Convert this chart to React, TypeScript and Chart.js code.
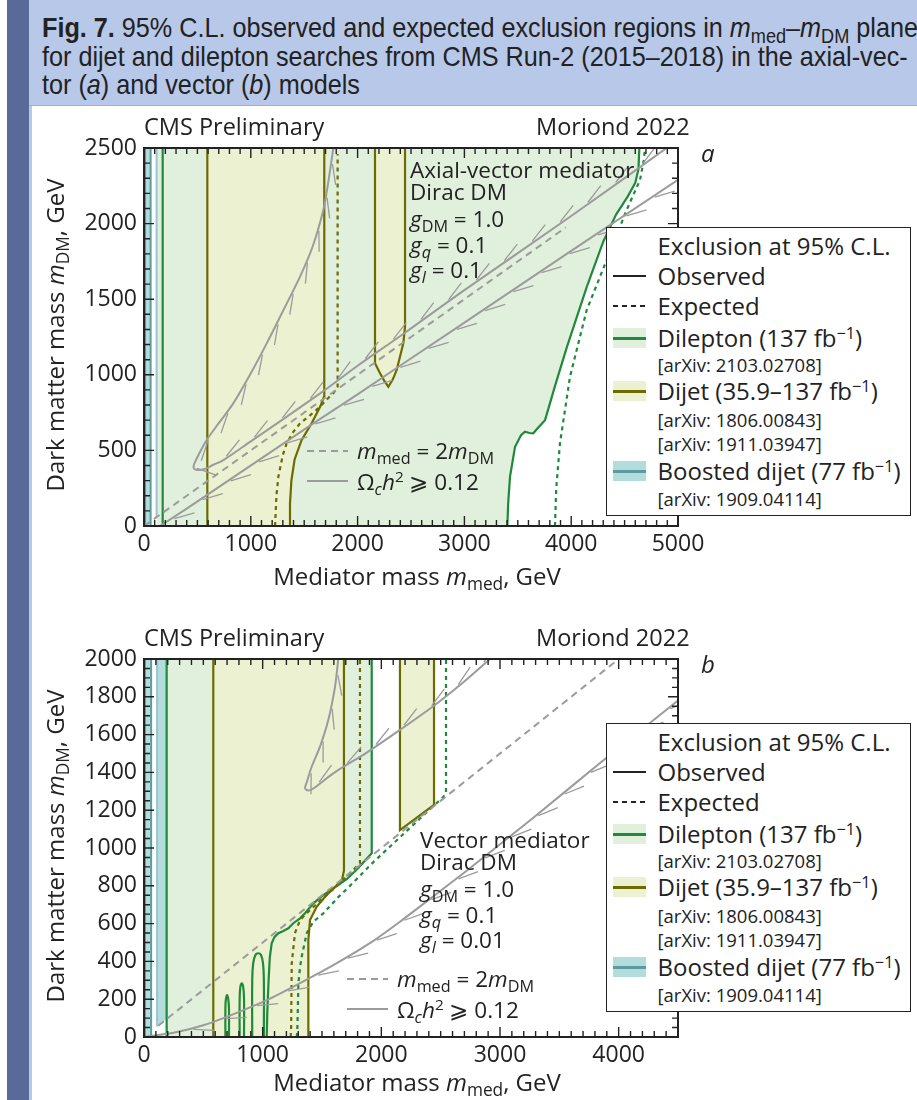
import React, { useEffect, useRef } from 'react';
import { Chart, registerables } from 'chart.js';

Chart.register(...registerables);

type P = [number, number];

const FONT = '"Open Sans", "Noto Sans", sans-serif';
const INK = '#222222';

const COLORS = {
  green: '#1f8a3c',
  greenFill: '#e1f0dc',
  olive: '#6b6b00',
  yellowFill: '#ecf2d1',
  teal: '#5c9c9e',
  tealFill: '#b3dcdc',
  tealEdge: '#98c6cf',
  gray: '#9b9b9b',
};

// ---------- (a) Axial-vector mediator ----------
const aXTickLabels = [0, 1000, 2000, 3000, 4000, 5000];
const aYTickLabels = [0, 500, 1000, 1500, 2000, 2500];

const aBoostedObs: P[] = [[10, 0], [10, 2500], [62, 2500], [62, 0], [10, 0]];
const aBoostedExp: P[] = [[118, 60], [118, 2500]];
const aDileptonObsLeft: P[] = [[175, 0], [175, 2500]];
const aDileptonObsRight: P[] = [
  [3402, 0], [3410, 150], [3427, 326], [3474, 524], [3530, 600], [3567, 624], [3610, 615],
  [3645, 613], [3677, 640], [3755, 700], [3850, 930], [3958, 1180], [4145, 1580], [4300, 1880],
  [4420, 2060], [4530, 2180], [4600, 2270], [4630, 2360], [4638, 2500],
];
const aDileptonExp: P[] = [
  [3848, 0], [3860, 250], [3895, 548], [3989, 988], [4145, 1428], [4332, 1759], [4519, 2090],
  [4644, 2288], [4680, 2420], [4691, 2500],
];
const aDijetObsLeft: P[] = [[593, 0], [593, 2500]];
const aDijetObsRight: P[] = [
  [1367, 0], [1367, 150], [1380, 300], [1410, 440], [1476, 569], [1570, 679], [1650, 790],
  [1688, 860], [1688, 2500],
];
const aDijetIsland: P[] = [
  [2163, 2500], [2163, 1076], [2210, 1010], [2250, 960], [2288, 921], [2330, 970], [2366, 1032],
  [2428, 1208], [2444, 1318], [2444, 2500],
];
const aDijetExp: P[] = [
  [1227, 0], [1240, 200], [1258, 326], [1300, 470], [1336, 547], [1400, 625], [1461, 679],
  [1560, 735], [1648, 789], [1730, 850], [1773, 877], [1813, 921], [1813, 2460],
];
const aHalfMass: P[] = [[0, 0], [3950, 1975]];
const aRelicV: P[] = [
  [1773, 2500], [1720, 2250], [1679, 2090], [1580, 1850], [1461, 1649], [1300, 1420],
  [1149, 1208], [1000, 1010], [836, 811], [700, 680], [587, 569], [510, 470], [470, 410],
  [465, 385], [490, 372], [560, 375], [650, 405], [743, 436], [1000, 560], [1300, 705],
  [1695, 900], [2000, 1060], [2397, 1255], [3000, 1560], [4000, 2050], [4894, 2500],
];
const aRelicLow: P[] = [
  [150, 0], [400, 115], [800, 305], [1200, 495], [1600, 685], [2000, 870], [2397, 1060],
  [3000, 1345], [4000, 1820], [5000, 2290],
];

// ---------- (b) Vector mediator ----------
const bXTickLabels = [0, 1000, 2000, 3000, 4000];
const bYTickLabels = [0, 200, 400, 600, 800, 1000, 1200, 1400, 1600, 1800, 2000];

const bBoostedObs: P[] = [[8, 0], [8, 2000], [60, 2000], [60, 0], [8, 0]];
const bBoostedExpFill: P[] = [[110, 55], [110, 2000], [191, 2000], [191, 95]];
const bBoostedExpLine: P[] = [[110, 55], [110, 2000]];
const bDileptonObsLeft: P[] = [[191, 0], [191, 2000]];
const bDileptonObsRight: P[] = [
  [1034, 0], [1040, 150], [1050, 300], [1060, 420], [1076, 496], [1100, 530], [1132, 549],
  [1170, 560], [1216, 575], [1258, 602], [1315, 628], [1357, 655], [1427, 707], [1511, 751],
  [1637, 804], [1708, 835], [1800, 890], [1919, 972], [1919, 2000],
];
const bFinger1: P[] = [[686, 0], [686, 150], [690, 200], [700, 222], [710, 200], [716, 150], [716, 0]];
const bFinger2: P[] = [[806, 0], [806, 200], [812, 265], [824, 284], [836, 265], [843, 200], [843, 0]];
const bFinger3: P[] = [
  [912, 0], [912, 300], [920, 390], [940, 435], [962, 443], [985, 435], [1003, 390], [1010, 300], [1010, 0],
];
const bDileptonExp: P[] = [
  [1287, 0], [1292, 37], [1298, 200], [1301, 284], [1315, 370], [1329, 425], [1371, 549],
  [1427, 610], [1511, 654], [1637, 740], [1736, 800], [1932, 925], [2214, 1090], [2400, 1200],
  [2522, 1270], [2545, 1290], [2545, 2000],
];
const bDijetObsLeft: P[] = [[584, 0], [584, 2000]];
const bDijetObsRight: P[] = [
  [1385, 0], [1385, 513], [1399, 619], [1455, 689], [1539, 751], [1620, 800], [1670, 835],
  [1685, 880], [1685, 2000],
];
const bDijetIsland: P[] = [[2157, 2000], [2157, 1095], [2444, 1228], [2444, 2000]];
const bDijetExp: P[] = [
  [1236, 0], [1240, 54], [1245, 390], [1272, 549], [1315, 619], [1399, 672], [1483, 720],
  [1600, 785], [1700, 845], [1820, 919], [1820, 2000],
];
const bHalfMass: P[] = [[121, 60], [4000, 2000]];
const bRelicV: P[] = [
  [1637, 2000], [1610, 1854], [1553, 1677], [1483, 1536], [1413, 1430], [1370, 1345],
  [1357, 1318], [1375, 1305], [1420, 1312], [1595, 1395], [1877, 1505], [2157, 1625],
  [2438, 1750], [2663, 1862], [2916, 2000],
];
const bRelicLow: P[] = [
  [0, 0], [250, 22], [500, 62], [750, 120], [1034, 195], [1300, 280], [1595, 380], [1900, 495],
  [2157, 610], [2450, 750], [2719, 880], [3281, 1160], [3843, 1450], [4500, 1780],
];

// ---------- chart construction ----------
type Layer = {
  pts: P[];
  fill?: string;
  line?: string;
  width?: number;
  dash?: number[];
  tension?: number;
  hatch?: number;
};

type Spec = {
  xMax: number;
  yMax: number;
  xLabels: number[];
  yLabels: number[];
  xMinor: number;
  xMajor: number;
  yMinor: number;
  yMajor: number;
  padTop: number;
  padBottom: number;
  layers: Layer[];
};

const rev = (p: P[]) => p.slice().reverse();

const specA: Spec = {
  xMax: 5000, yMax: 2500, xLabels: aXTickLabels, yLabels: aYTickLabels,
  xMinor: 100, xMajor: 1000, yMinor: 100, yMajor: 500, padTop: 48, padBottom: 14,
  layers: [
    { pts: [[118, 0], [118, 2500], ...rev(aDileptonObsRight)], fill: COLORS.greenFill },
    { pts: [...aDijetObsLeft, ...rev(aDijetObsRight)], fill: COLORS.yellowFill },
    { pts: aDijetIsland, fill: COLORS.yellowFill },
    { pts: aBoostedObs, fill: COLORS.tealFill },
    { pts: aBoostedObs, line: COLORS.teal, width: 2 },
    { pts: aBoostedExp, line: COLORS.tealEdge, width: 2 },
    { pts: aDileptonObsLeft, line: COLORS.green, width: 2.2 },
    { pts: aDileptonObsRight, line: COLORS.green, width: 2.2 },
    { pts: aDileptonExp, line: COLORS.green, width: 2.2, dash: [4, 4] },
    { pts: aDijetObsLeft, line: COLORS.olive, width: 2.2 },
    { pts: aDijetObsRight, line: COLORS.olive, width: 2.2 },
    { pts: aDijetIsland, line: COLORS.olive, width: 2.2 },
    { pts: aDijetExp, line: COLORS.olive, width: 2.2, dash: [4, 4] },
    { pts: aHalfMass, line: COLORS.gray, width: 2, dash: [7, 5] },
    { pts: aRelicV, line: COLORS.gray, width: 2, tension: 0.3, hatch: -1 },
    { pts: aRelicLow, line: COLORS.gray, width: 2, hatch: 1 },
  ],
};

const specB: Spec = {
  xMax: 4500, yMax: 2000, xLabels: bXTickLabels, yLabels: bYTickLabels,
  xMinor: 100, xMajor: 1000, yMinor: 50, yMajor: 200, padTop: 49, padBottom: 13,
  layers: [
    { pts: [[191, 0], [191, 2000], ...rev(bDileptonObsRight)], fill: COLORS.greenFill },
    { pts: bBoostedExpFill, fill: COLORS.tealFill },
    { pts: [...bDijetObsLeft, ...rev(bDijetObsRight)], fill: COLORS.yellowFill },
    { pts: bDijetIsland, fill: COLORS.yellowFill },
    { pts: bBoostedObs, fill: COLORS.tealFill },
    { pts: bBoostedObs, line: COLORS.teal, width: 2 },
    { pts: bBoostedExpLine, line: COLORS.tealEdge, width: 2 },
    { pts: bDileptonObsLeft, line: COLORS.green, width: 2.2 },
    { pts: bDileptonObsRight, line: COLORS.green, width: 2.2 },
    { pts: bFinger1, line: COLORS.green, width: 2.2, tension: 0.4 },
    { pts: bFinger2, line: COLORS.green, width: 2.2, tension: 0.4 },
    { pts: bFinger3, line: COLORS.green, width: 2.2, tension: 0.4 },
    { pts: bDileptonExp, line: COLORS.green, width: 2.2, dash: [4, 4] },
    { pts: bDijetObsLeft, line: COLORS.olive, width: 2.2 },
    { pts: bDijetObsRight, line: COLORS.olive, width: 2.2 },
    { pts: bDijetIsland, line: COLORS.olive, width: 2.2 },
    { pts: bDijetExp, line: COLORS.olive, width: 2.2, dash: [4, 4] },
    { pts: bHalfMass, line: COLORS.gray, width: 2, dash: [7, 5] },
    { pts: bRelicV, line: COLORS.gray, width: 2, tension: 0.3, hatch: -1 },
    { pts: bRelicLow, line: COLORS.gray, width: 2, tension: 0.2, hatch: 1 },
  ],
};

const hatchPlugin = {
  id: 'hatch',
  afterDatasetsDraw(chart: any, _args: any, opts: any) {
    const { ctx, chartArea } = chart;
    ctx.save();
    ctx.beginPath();
    ctx.rect(chartArea.left, chartArea.top, chartArea.right - chartArea.left, chartArea.bottom - chartArea.top);
    ctx.clip();
    ctx.strokeStyle = opts.color;
    ctx.lineWidth = opts.width;
    ctx.setLineDash([]);
    chart.data.datasets.forEach((ds: any, i: number) => {
      if (!ds.hatch) return;
      const meta = chart.getDatasetMeta(i);
      const pts = meta.data.map((e: any) => ({ x: e.x, y: e.y }));
      const L = opts.length;
      const sp = opts.spacing;
      const ca = Math.cos(opts.angle);
      const sa = Math.sin(opts.angle);
      let d = opts.offset;
      ctx.beginPath();
      for (let k = 0; k < pts.length - 1; k++) {
        const a = pts[k];
        const b = pts[k + 1];
        const dx = b.x - a.x;
        const dy = b.y - a.y;
        const len = Math.hypot(dx, dy);
        if (!len) continue;
        const tx = dx / len;
        const ty = dy / len;
        const nx = -ty * ds.hatch;
        const ny = tx * ds.hatch;
        while (d <= len) {
          const px = a.x + tx * d + nx * 1.5;
          const py = a.y + ty * d + ny * 1.5;
          ctx.moveTo(px, py);
          ctx.lineTo(px + (tx * ca + nx * sa) * L, py + (ty * ca + ny * sa) * L);
          d += sp;
        }
        d -= len;
      }
      ctx.stroke();
    });
    ctx.restore();
  },
};

const framePlugin = {
  id: 'frame',
  afterDatasetsDraw(chart: any, _args: any, o: any) {
    const { ctx, chartArea, scales } = chart;
    const { left, right, top, bottom } = chartArea;
    const x = scales.x;
    const y = scales.y;
    ctx.save();
    ctx.setLineDash([]);
    ctx.strokeStyle = INK;
    ctx.lineWidth = 1.4;
    ctx.beginPath();
    for (let v = 0; v <= o.xMax + 1e-6; v += o.xMinor) {
      const px = x.getPixelForValue(v);
      const len = Math.abs(v % o.xMajor) < 1e-6 ? o.major : o.minor;
      ctx.moveTo(px, bottom);
      ctx.lineTo(px, bottom - len);
      ctx.moveTo(px, top);
      ctx.lineTo(px, top + len);
    }
    for (let v = 0; v <= o.yMax + 1e-6; v += o.yMinor) {
      const py = y.getPixelForValue(v);
      const len = Math.abs(v % o.yMajor) < 1e-6 ? o.major : o.minor;
      ctx.moveTo(left, py);
      ctx.lineTo(left + len, py);
      ctx.moveTo(right, py);
      ctx.lineTo(right - len, py);
    }
    ctx.stroke();
    ctx.lineWidth = 2;
    ctx.strokeRect(left, top, right - left, bottom - top);
    ctx.restore();
  },
};

function buildConfig(s: Spec): any {
  const n = s.layers.length;
  const datasets = s.layers.map((l, i) => {
    const base: any = {
      data: l.pts.map(([x, y]) => ({ x, y })),
      pointRadius: 0,
      pointHoverRadius: 0,
      tension: l.tension ?? 0,
      order: n - i,
    };
    if (l.fill) {
      return { ...base, fill: 'shape', backgroundColor: l.fill, borderColor: 'rgba(0,0,0,0)', borderWidth: 0 };
    }
    return {
      ...base,
      fill: false,
      borderColor: l.line,
      borderWidth: l.width ?? 2,
      borderDash: l.dash ?? [],
      hatch: l.hatch ?? 0,
    };
  });
  const tickFont = { family: FONT, size: 23 };
  return {
    type: 'line',
    data: { datasets },
    plugins: [hatchPlugin, framePlugin],
    options: {
      responsive: false,
      animation: false,
      events: [],
      layout: { padding: { left: 44, right: 239, top: s.padTop, bottom: s.padBottom } },
      plugins: {
        legend: { display: false },
        tooltip: { enabled: false },
        hatch: { color: COLORS.gray, width: 1.3, length: 21, spacing: 34, angle: 0.3, offset: 16 },
        frame: { xMax: s.xMax, yMax: s.yMax, xMinor: s.xMinor, xMajor: s.xMajor, yMinor: s.yMinor, yMajor: s.yMajor, major: 10, minor: 6 },
      },
      scales: {
        x: {
          type: 'linear',
          min: 0,
          max: s.xMax,
          grid: { display: false, drawTicks: false },
          border: { display: false },
          ticks: { font: tickFont, color: INK, padding: 5, maxRotation: 0, autoSkip: false, callback: (v: any) => String(v) },
          afterBuildTicks: (sc: any) => { sc.ticks = s.xLabels.map((v) => ({ value: v })); },
          afterFit: (sc: any) => { sc.height = 40; },
        },
        y: {
          type: 'linear',
          min: 0,
          max: s.yMax,
          grid: { display: false, drawTicks: false },
          border: { display: false },
          ticks: { font: tickFont, color: INK, padding: 7, autoSkip: false, callback: (v: any) => String(v) },
          afterBuildTicks: (sc: any) => { sc.ticks = s.yLabels.map((v) => ({ value: v })); },
          afterFit: (sc: any) => { sc.width = 100; },
        },
      },
    },
  };
}

function ChartPanel({ spec, top }: { spec: Spec; top: number }) {
  const ref = useRef<HTMLCanvasElement>(null);
  useEffect(() => {
    const chart = new Chart(ref.current as HTMLCanvasElement, buildConfig(spec));
    return () => chart.destroy();
  }, [spec]);
  return (
    <canvas
      ref={ref}
      width={917}
      height={480}
      style={{ position: 'absolute', left: 0, top, width: 917, height: 480 }}
    />
  );
}

// ---------- text overlays ----------
const subS: React.CSSProperties = { fontSize: '0.72em', verticalAlign: '-0.3em', lineHeight: 0 };
const supS: React.CSSProperties = { fontSize: '0.68em', verticalAlign: '0.5em', lineHeight: 0 };

function Txt({ x, cy, size, children, style }: any) {
  const lh = Math.round(size * 1.25);
  return (
    <div
      style={{
        position: 'absolute', left: x, top: cy - lh / 2, fontSize: size, lineHeight: `${lh}px`,
        whiteSpace: 'nowrap', ...style,
      }}
    >
      {children}
    </div>
  );
}

const MMed = () => (<><i>m</i><span style={subS}>med</span></>);
const MDM = () => (<><i>m</i><span style={subS}>DM</span></>);
const Fb = () => (<>fb<span style={supS}>−1</span></>);

function Dash({ x, y, w, color, dash, gap }: any) {
  return (
    <div
      style={{
        position: 'absolute', left: x, top: y - 1, width: w, height: 2,
        background: dash ? `repeating-linear-gradient(90deg, ${color} 0 ${dash}px, transparent ${dash}px ${dash + gap}px)` : color,
      }}
    />
  );
}

function Swatch({ x, y, fill, line }: any) {
  return (
    <>
      <div style={{ position: 'absolute', left: x, top: y - 10, width: 33, height: 20, background: fill }} />
      <div style={{ position: 'absolute', left: x, top: y - 1.5, width: 33, height: 3, background: line }} />
    </>
  );
}

function Legend({ top }: { top: number }) {
  const r = [18, 48, 78, 110, 136, 163, 191, 215, 243, 270];
  const tx = 50.5;
  const big = 24;
  const small = 18.5;
  return (
    <div
      style={{
        position: 'absolute', left: 606, top, width: 305, height: 289, boxSizing: 'border-box',
        border: `1.5px solid ${INK}`, background: '#fff',
      }}
    >
      <Txt x={tx} cy={r[0]} size={big}>Exclusion at 95% C.L.</Txt>
      <Dash x={5.5} y={r[1]} w={33} color={INK} />
      <Txt x={tx} cy={r[1]} size={big}>Observed</Txt>
      <Dash x={5.5} y={r[2]} w={33} color={INK} dash={5} gap={4} />
      <Txt x={tx} cy={r[2]} size={big}>Expected</Txt>
      <Swatch x={5.5} y={r[3]} fill={COLORS.greenFill} line={COLORS.green} />
      <Txt x={tx} cy={r[3]} size={big}>Dilepton (137 <Fb />)</Txt>
      <Txt x={tx} cy={r[4]} size={small}>[arXiv: 2103.02708]</Txt>
      <Swatch x={5.5} y={r[5]} fill={COLORS.yellowFill} line={COLORS.olive} />
      <Txt x={tx} cy={r[5]} size={big}>Dijet (35.9–137 <Fb />)</Txt>
      <Txt x={tx} cy={r[6]} size={small}>[arXiv: 1806.00843]</Txt>
      <Txt x={tx} cy={r[7]} size={small}>[arXiv: 1911.03947]</Txt>
      <Swatch x={5.5} y={r[8]} fill={COLORS.tealFill} line={COLORS.teal} />
      <Txt x={tx} cy={r[8]} size={big}>Boosted dijet (77 <Fb />)</Txt>
      <Txt x={tx} cy={r[9]} size={small}>[arXiv: 1909.04114]</Txt>
    </div>
  );
}

function RelicKey({ x, y1, y2 }: any) {
  return (
    <>
      <Dash x={x} y={y1} w={41} color={COLORS.gray} dash={7} gap={5} />
      <Txt x={x + 50} cy={y1} size={22.5}><MMed /> = 2<MDM /></Txt>
      <Dash x={x} y={y2} w={41} color={COLORS.gray} />
      <Txt x={x + 50} cy={y2 + 1} size={22.5}>Ω<span style={subS}><i>c</i></span><i>h</i><span style={supS}>2</span> ⩾ 0.12</Txt>
    </>
  );
}

function Model({ x, y, title, gl }: any) {
  const s = 22.5;
  return (
    <>
      <Txt x={x} cy={y} size={s}>{title}</Txt>
      <Txt x={x} cy={y + 22} size={s}>Dirac DM</Txt>
      <Txt x={x} cy={y + 49} size={s}><i>g</i><span style={subS}>DM</span> = 1.0</Txt>
      <Txt x={x} cy={y + 75} size={s}><i>g</i><span style={subS}><i>q</i></span> = 0.1</Txt>
      <Txt x={x} cy={y + 100} size={s}><i>g</i><span style={subS}><i>l</i></span> = {gl}</Txt>
    </>
  );
}

function PanelText({ top, letter, model, legendTop, relicX, relicY }: any) {
  return (
    <>
      <Txt x={144} cy={top} size={23.5}>CMS Preliminary</Txt>
      <Txt x={536} cy={top} size={23.5}>Moriond 2022</Txt>
      <Txt x={701} cy={top + 27} size={24} style={{ fontStyle: 'italic' }}>{letter}</Txt>
      <Legend top={legendTop} />
      <RelicKey x={relicX} y1={relicY} y2={relicY + 30} />
      {model}
    </>
  );
}

function Header() {
  return (
    <div
      style={{
        position: 'absolute', left: 29, top: 0, width: 888, height: 106, boxSizing: 'border-box',
        background: '#b8c8e8', borderBottom: '1px solid #9eb0d2', overflow: 'hidden',
      }}
    >
      <div
        style={{
          position: 'absolute', left: 13, top: 14, fontFamily: '"Liberation Sans", Arial, sans-serif',
          fontSize: 28, lineHeight: '28.5px', color: INK, whiteSpace: 'nowrap',
          transform: 'scaleX(0.9)', transformOrigin: '0 0',
        }}
      >
        <div><b>Fig. 7.</b> 95% C.L. observed and expected exclusion regions in <MMed />–<MDM /> plane</div>
        <div>for dijet and dilepton searches from CMS Run-2 (2015–2018) in the axial-vec-</div>
        <div>tor (<i>a</i>) and vector (<i>b</i>) models</div>
      </div>
    </div>
  );
}

export default function App() {
  return (
    <div
      style={{
        position: 'absolute', left: 0, top: 0, width: 917, height: 1100, overflow: 'hidden',
        background: '#fff', fontFamily: FONT, color: INK,
      }}
    >
      <div style={{ position: 'absolute', left: 7, top: 0, width: 22, height: 1100, background: '#5a6a98' }} />
      <div style={{ position: 'absolute', left: 29, top: 106, width: 3, height: 994, background: '#b8c8e8' }} />
      <Header />
      <ChartPanel spec={specA} top={100} />
      <ChartPanel spec={specB} top={610} />
      <PanelText
        top={126} letter="a" legendTop={227} relicX={307} relicY={451}
        model={<Model x={410} y={170} title="Axial-vector mediator" gl="0.1" />}
      />
      <PanelText
        top={637} letter="b" legendTop={723} relicX={347} relicY={979}
        model={<Model x={420} y={840} title="Vector mediator" gl="0.01" />}
      />
      <Txt x={417} cy={576} size={24} style={{ transform: 'translateX(-50%)' }}>Mediator mass <MMed />, GeV</Txt>
      <Txt x={417} cy={1082} size={24} style={{ transform: 'translateX(-50%)' }}>Mediator mass <MMed />, GeV</Txt>
      <Txt x={55} cy={335} size={24} style={{ transform: 'translateX(-50%) rotate(-90deg)' }}>Dark matter mass <MDM />, GeV</Txt>
      <Txt x={55} cy={846} size={24} style={{ transform: 'translateX(-50%) rotate(-90deg)' }}>Dark matter mass <MDM />, GeV</Txt>
    </div>
  );
}
